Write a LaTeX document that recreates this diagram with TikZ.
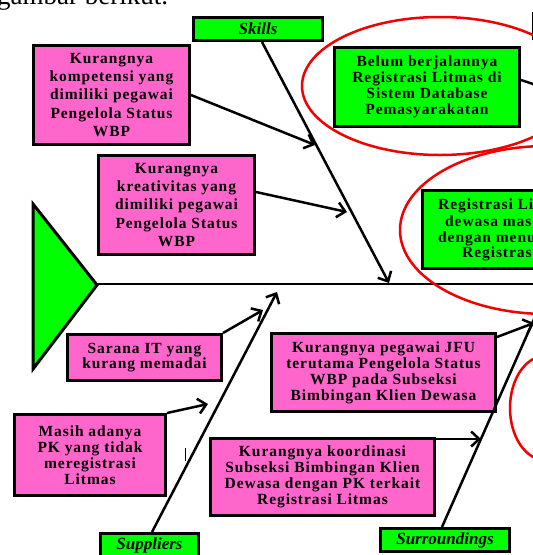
\documentclass[tikz,border=0pt]{standalone}
\usepackage{fontspec}
\setmainfont{Liberation Serif}
\newfontfamily\bx[LetterSpace=6]{Liberation Serif}
\usetikzlibrary{arrows.meta,calc}
\definecolor{pk}{RGB}{255,102,204}
\definecolor{gr}{RGB}{0,255,0}
\definecolor{rd}{RGB}{240,0,0}
\begin{document}
\begin{tikzpicture}[x=1pt,y=-1pt,
  box/.style={draw=black, line width=3pt, align=center, inner sep=0pt,
    font=\bx\bfseries\fontsize{15.5}{16}\selectfont},
  pbox/.style={box, fill=pk},
  gbox/.style={box, fill=gr},
  frag/.style={inner sep=0pt, anchor=base west, font=\bx\bfseries\fontsize{15.5}{16}\selectfont},
  cat/.style={draw=black, line width=3pt, fill=gr, inner sep=0pt,
    font=\bfseries\itshape\fontsize{17}{18}\selectfont},
  bone/.style={line width=2.5pt, -{Straight Barb[length=8pt,width=15pt]}},
  ell/.style={draw=rd, line width=2.5pt}]
\useasboundingbox (0,0) rectangle (533,555);
\clip (0,0) rectangle (533,555);

% intro text (clipped at the top, as in the reference)
\node[inner sep=0pt, anchor=base west, font=\fontsize{27}{30}\selectfont] (intro) at (-3,4) {gambar berikut.};

% head triangle
\draw[line width=3pt, fill=gr, line join=miter] (33,204) -- (97,285) -- (33,369) -- cycle;

% category boxes
\node[cat, minimum width=129pt, minimum height=23pt] (skills) at (258,29) {Skills};
\node[cat, minimum width=98pt, minimum height=23pt] (suppliers) at (149.5,545) {Suppliers};
\node[cat, minimum width=129pt, minimum height=23pt] (surr) at (445,540) {Surroundings};
\node[cat, minimum width=40pt, minimum height=25pt] (sys) at (553,26) {};

% cause boxes
\node[pbox, minimum width=156pt, minimum height=99pt, font=\bx\bfseries\fontsize{15.5}{18.3}\selectfont] (b1) at (111.5,95)
  {Kurangnya\\kompetensi yang\\dimiliki pegawai\\Pengelola Status\\WBP};
\node[pbox, minimum width=156pt, minimum height=99pt, font=\bx\bfseries\fontsize{15.5}{18.3}\selectfont] (b2) at (176.5,205)
  {Kurangnya\\kreativitas yang\\dimiliki pegawai\\Pengelola Status\\WBP};
\node[gbox, minimum width=185pt, minimum height=79pt] (belum) at (427,87)
  {Belum berjalannya\\Registrasi Litmas di\\Sistem Database\\Pemasyarakatan};
\node[gbox, minimum width=186pt, minimum height=78pt] (reg) at (515.5,229.5) {};
\node[frag] (r1) at (438,209) {Registrasi Li};
\node[frag] (r2) at (445,226) {dewasa mas};
\node[frag] (r3) at (438,242) {dengan menu};
\node[frag] (r4) at (462,257) {Registrasi};
\node[pbox, minimum width=154pt, minimum height=46pt, font=\bx\bfseries\fontsize{15.5}{15}\selectfont] (sarana) at (144.5,357.5)
  {Sarana IT yang\\kurang memadai};
\node[pbox, minimum width=151pt, minimum height=81pt] (masih) at (90,455)
  {Masih adanya\\PK yang tidak\\meregistrasi\\Litmas};
\node[pbox, minimum width=224pt, minimum height=78pt] (jfu) at (383.5,372.5)
  {Kurangnya pegawai JFU\\terutama Pengelola Status\\WBP pada Subseksi\\Bimbingan Klien Dewasa};
\node[pbox, minimum width=224pt, minimum height=77pt] (koord) at (322.5,477)
  {Kurangnya koordinasi\\Subseksi Bimbingan Klien\\Dewasa dengan PK terkait\\Registrasi Litmas};

% coordinates
\coordinate (tail) at (97,284);
\coordinate (spineend) at (545,284);
\coordinate (sk) at (389,283);
\coordinate (sp) at (277,292);
\coordinate (su) at (550,283);
\coordinate (a1) at (315,145);
\coordinate (a2) at (347,212);
\coordinate (a3) at (263,310);
\coordinate (a4) at (208,404);
\coordinate (a5) at (534,323);
\coordinate (a6) at (481,439);
\coordinate (sysline) at (545,88);

% spine and bones
\draw[line width=2.5pt] (tail) -- (spineend);
\draw[bone] ([xshift=4pt]skills.south) -- (sk);
\draw[bone] ([xshift=2.5pt]suppliers.north) -- (sp);
\draw[bone] ([xshift=-3pt]surr.north) -- (su);
\draw[bone] (b1.east) -- (a1);
\draw[bone] ([yshift=13pt]b2.east) -- (a2);
\draw[bone] (sarana.north east) -- (a3);
\draw[bone] (masih.north east) -- (a4);
\draw[bone] ([yshift=-5pt]jfu.north east) -- (a5);
\draw[bone] ([yshift=-2pt]koord.north east) -- (a6);
\draw[line width=2.5pt] ([yshift=7pt]belum.east) -- (sysline);

% stray mark
\draw[line width=0.8pt] (185,448) -- (185,461);

% red ellipses
\draw[ell] (440,86) ellipse [x radius=138, y radius=69];
\draw[ell] (547,230) ellipse [x radius=147, y radius=84];
\draw[ell] (545,408) ellipse [x radius=35, y radius=52];
\end{tikzpicture}
\end{document}
